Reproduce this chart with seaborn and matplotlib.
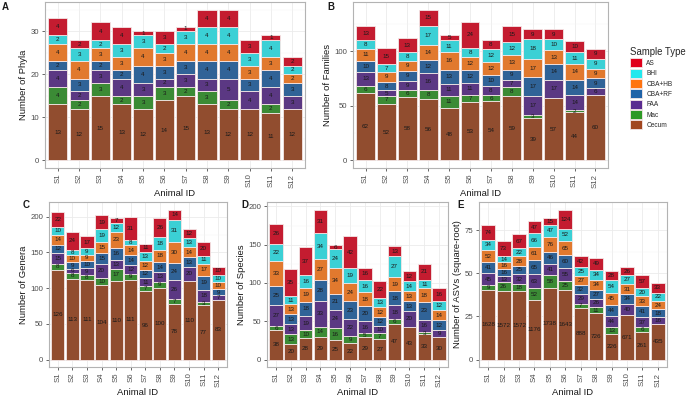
import numpy as np
import pandas as pd
import seaborn as sns
import matplotlib.pyplot as plt
from matplotlib.patches import Patch
from matplotlib.ticker import MultipleLocator

animals = [f"S{i}" for i in range(1, 13)]
# stacking order, bottom to top
sample_types = ["Cecum", "Mac", "FAA", "CBA+RF", "CBA+HB", "BHI", "AS"]
palette = {
    "AS": "#E0001B",
    "BHI": "#22E8EE",
    "CBA+HB": "#FF7410",
    "CBA+RF": "#1F63A8",
    "FAA": "#5A2B90",
    "Mac": "#2E9A26",
    "Cecum": "#A1461F",
}

# counts per sample type, S1..S12
phyla = {
    "Cecum": [13, 12, 15, 13, 12, 14, 15, 13, 12, 12, 11, 12],
    "Mac": [4, 2, 3, 2, 3, 3, 2, 3, 2, 0, 2, 0],
    "FAA": [4, 2, 3, 4, 3, 2, 3, 3, 5, 4, 4, 3],
    "CBA+RF": [2, 3, 2, 2, 4, 3, 3, 4, 4, 3, 4, 3],
    "CBA+HB": [4, 4, 3, 3, 4, 3, 4, 4, 4, 3, 3, 2],
    "BHI": [2, 3, 2, 3, 3, 2, 3, 4, 4, 3, 4, 2],
    "AS": [4, 2, 4, 4, 1, 3, 1, 4, 4, 3, 1, 2],
}
families = {
    "Cecum": [62, 52, 58, 56, 48, 53, 54, 59, 39, 57, 44, 60],
    "Mac": [6, 7, 6, 8, 11, 7, 6, 8, 3, 0, 2, 0],
    "FAA": [13, 5, 9, 16, 11, 11, 8, 7, 17, 17, 14, 6],
    "CBA+RF": [10, 8, 9, 12, 13, 12, 10, 9, 17, 14, 14, 9],
    "CBA+HB": [11, 9, 9, 14, 16, 12, 12, 13, 17, 13, 14, 9],
    "BHI": [8, 7, 8, 17, 11, 8, 12, 12, 18, 10, 11, 9],
    "AS": [13, 15, 13, 15, 5, 24, 8, 15, 9, 9, 10, 9],
}
genera = {
    "Cecum": [126, 113, 111, 104, 110, 111, 96, 100, 78, 110, 77, 83],
    "Mac": [8, 8, 8, 10, 17, 9, 7, 9, 7, 0, 3, 0],
    "FAA": [15, 6, 9, 20, 13, 12, 11, 13, 26, 20, 18, 7],
    "CBA+RF": [12, 9, 10, 15, 16, 14, 12, 14, 24, 13, 19, 9],
    "CBA+HB": [14, 10, 9, 15, 23, 14, 12, 18, 30, 14, 17, 10],
    "BHI": [10, 8, 9, 19, 12, 8, 13, 18, 31, 13, 11, 10],
    "AS": [22, 24, 17, 19, 7, 31, 11, 26, 14, 12, 20, 10],
}
species = {
    "Cecum": [38, 20, 28, 29, 25, 22, 29, 27, 47, 43, 33, 30],
    "Mac": [6, 13, 10, 14, 16, 9, 5, 7, 6, 0, 3, 0],
    "FAA": [27, 13, 19, 33, 24, 22, 16, 10, 18, 20, 16, 9],
    "CBA+RF": [25, 13, 18, 28, 21, 23, 20, 12, 18, 13, 23, 12],
    "CBA+HB": [33, 13, 19, 27, 34, 24, 18, 12, 19, 13, 18, 14],
    "BHI": [22, 11, 16, 34, 24, 19, 16, 13, 27, 14, 11, 12],
    "AS": [26, 35, 37, 31, 6, 42, 16, 22, 13, 12, 21, 16],
}
asvs = {
    "Cecum": [1628, 1572, 1572, 1176, 1738, 1643, 888, 726, 226, 671, 261, 435],
    "Mac": [9, 26, 18, 52, 58, 25, 7, 11, 13, 0, 6, 0],
    "FAA": [45, 13, 32, 63, 41, 55, 29, 26, 44, 40, 37, 16],
    "CBA+RF": [41, 16, 25, 65, 46, 60, 32, 27, 44, 34, 41, 18],
    "CBA+HB": [52, 16, 28, 61, 76, 65, 27, 34, 45, 31, 33, 24],
    "BHI": [34, 14, 22, 66, 47, 52, 25, 34, 54, 27, 20, 22],
    "AS": [74, 73, 67, 47, 15, 124, 42, 49, 28, 26, 57, 33],
}

sns.set_theme(style="white")
plt.rcParams['font.family'] = ['Liberation Sans', 'DejaVu Sans']

fig = plt.figure(figsize=(7, 3.99), dpi=100)


def stacked(ax, data, ylabel, step, sqrt=False):
    bottom = np.zeros(len(animals))
    for st in sample_types:
        counts = np.array(data[st], dtype=float)
        h = np.sqrt(counts) if sqrt else counts
        sns.barplot(x=animals, y=h, bottom=bottom, color=palette[st], width=0.9,
                    edgecolor="#F4E6E6", linewidth=0.6, ax=ax, zorder=2)
        for i, (c, b, hh) in enumerate(zip(counts, bottom, h)):
            if c > 0:
                ax.text(i, b + hh / 2, f"{int(c)}", ha="center", va="center",
                        fontsize=4.5, color="#1a1a1a", zorder=3)
        bottom = bottom + h
    top = bottom.max()
    ax.set_ylim(-0.05 * top, top * 1.05)
    ax.set_xlim(-0.6, len(animals) - 0.4)
    ax.set_xticks(range(len(animals)))
    ax.set_xticklabels(animals, rotation=90)
    ax.yaxis.set_major_locator(MultipleLocator(step))
    ax.yaxis.set_minor_locator(MultipleLocator(step / 2))
    ax.grid(True, which="major", color="#EBEBEB", linewidth=0.6, zorder=0)
    ax.grid(True, which="minor", axis="y", color="#F3F3F3", linewidth=0.35, zorder=0)
    ax.set_axisbelow(True)
    for sp in ax.spines.values():
        sp.set_color("#B3B3B3")
        sp.set_linewidth(0.8)
    ax.tick_params(axis="both", which="major", labelsize=5.6, colors="#4D4D4D",
                   length=2.5, width=0.6, pad=1.5, bottom=True, left=True)
    ax.tick_params(which="minor", length=0)
    ax.set_xlabel("Animal ID", fontsize=6.8, color="#1a1a1a", labelpad=1)
    ax.set_ylabel(ylabel, fontsize=6.8, color="#1a1a1a", labelpad=2)


W, H = 700, 399


def add_panel(l, r, t, b):
    return fig.add_axes([l / W, 1 - b / H, (r - l) / W, (b - t) / H])


axA = add_panel(45, 305, 2, 168)
axB = add_panel(353, 608, 2, 168)
axC = add_panel(49, 227, 202, 367)
axD = add_panel(267, 448, 202, 367)
axE = add_panel(479, 667, 202, 367)

stacked(axA, phyla, "Number of Phyla", 10)
stacked(axB, families, "Number of Families", 50)
stacked(axC, genera, "Number of Genera", 50)
stacked(axD, species, "Number of Species", 50)
stacked(axE, asvs, "Number of ASVs (square-root)", 25, sqrt=True)

for letter, x, y in [("A", 2, 7), ("B", 327, 7), ("C", 23, 205), ("D", 241, 205), ("E", 457, 205)]:
    fig.text(x / W, 1 - y / H, letter, fontsize=7, fontweight="bold",
             ha="left", va="center", color="#1a1a1a")

handles = [Patch(facecolor=palette[st], edgecolor="#F4E6E6", linewidth=0.6)
           for st in sample_types[::-1]]
leg = fig.legend(handles, sample_types[::-1], title="Sample Type",
                 loc="upper left", bbox_to_anchor=(630 / W, 1 - 47 / H),
                 frameon=False, fontsize=4.7, title_fontsize=6.9,
                 handlelength=1.8, handleheight=1.75, labelspacing=0.2,
                 handletextpad=0.7, borderaxespad=0, borderpad=0,
                 alignment="left")

fig.savefig("out.png", dpi=100)
